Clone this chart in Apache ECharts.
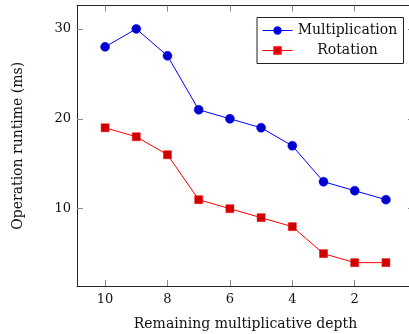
<!DOCTYPE html>
<html><head><meta charset="utf-8">
<script src="https://cdn.jsdelivr.net/npm/echarts@6/dist/echarts.min.js"></script>
<style>html,body{margin:0;padding:0;background:#fff;overflow:hidden}#c{width:409px;height:334px}</style>
</head><body><div id="c"></div>
<script>
const depth = [10, 9, 8, 7, 6, 5, 4, 3, 2, 1];
const multiplication = [28, 30, 27, 21, 20, 19, 17, 13, 12, 11];
const rotation = [19, 18, 16, 11, 10, 9, 8, 5, 4, 4];
const xTicks = [2, 4, 6, 8, 10];
const yTicks = [10, 20, 30];
const FONT = 'DejaVu Serif';

const chart = echarts.init(document.getElementById('c'), null, {renderer: 'canvas'});
const axisLineStyle = {color: '#262626', width: 1};
function xAx(pos, labels) {
  return {
    type: 'value', position: pos, inverse: true, min: 0.1, max: 10.9,
    axisLine: {show: true, onZero: false, lineStyle: axisLineStyle},
    axisTick: {show: true, inside: true, length: 6, customValues: xTicks, lineStyle: {color: '#888', width: 1}},
    axisLabel: {show: labels, customValues: xTicks, margin: 7, color: '#111', fontFamily: FONT, fontSize: 13},
    splitLine: {show: false},
    name: labels ? 'Remaining multiplicative depth' : '',
    nameLocation: 'middle', nameGap: 31,
    nameTextStyle: {color: '#111', fontFamily: FONT, fontSize: 14}
  };
}
function yAx(pos, labels) {
  return {
    type: 'value', position: pos, min: 1.4, max: 32.6,
    axisLine: {show: labels, onZero: false, lineStyle: axisLineStyle},
    axisTick: {show: true, inside: true, length: 6, customValues: yTicks, lineStyle: {color: '#888', width: 1}},
    axisLabel: {show: labels, customValues: yTicks, margin: 6, color: '#111', fontFamily: FONT, fontSize: 13},
    splitLine: {show: false},
    name: labels ? 'Operation runtime (ms)' : '',
    nameLocation: 'middle', nameGap: 52, nameRotate: 90,
    nameTextStyle: {color: '#111', fontFamily: FONT, fontSize: 14}
  };
}
chart.setOption({
  animation: false,
  backgroundColor: '#fff',
  grid: {left: 77, top: 5.5, width: 337, height: 280.5, containLabel: false, outerBoundsMode: 'none'},
  xAxis: [xAx('bottom', true), xAx('top', false)],
  yAxis: [yAx('left', true), yAx('right', false)],
  legend: {
    left: 257, top: 17.5, orient: 'vertical',
    borderColor: '#222', borderWidth: 1, borderRadius: 0,
    padding: [6, 6, 6, 5], itemGap: 6, itemWidth: 30, itemHeight: 8,
    lineStyle: {width: 1},
    formatter: n => '{a|' + n + '}',
    textStyle: {color: '#111', fontFamily: FONT, fontSize: 14,
      rich: {a: {width: 100, height: 14, lineHeight: 14, align: 'center', fontFamily: FONT, fontSize: 14, color: '#111'}}},
    data: ['Multiplication', 'Rotation']
  },
  series: [
    {name: 'Multiplication', type: 'line', data: depth.map((d, i) => [d, multiplication[i]]),
     symbol: 'circle', symbolSize: 9,
     lineStyle: {color: '#0000ff', width: 1},
     itemStyle: {color: '#0000cc', borderColor: '#0000ff', borderWidth: 0.5}},
    {name: 'Rotation', type: 'line', data: depth.map((d, i) => [d, rotation[i]]),
     symbol: 'rect', symbolSize: 8,
     lineStyle: {color: '#ff0000', width: 1},
     itemStyle: {color: '#cc0000', borderColor: '#ff0000', borderWidth: 0.5}}
  ]
});
</script></body></html>
